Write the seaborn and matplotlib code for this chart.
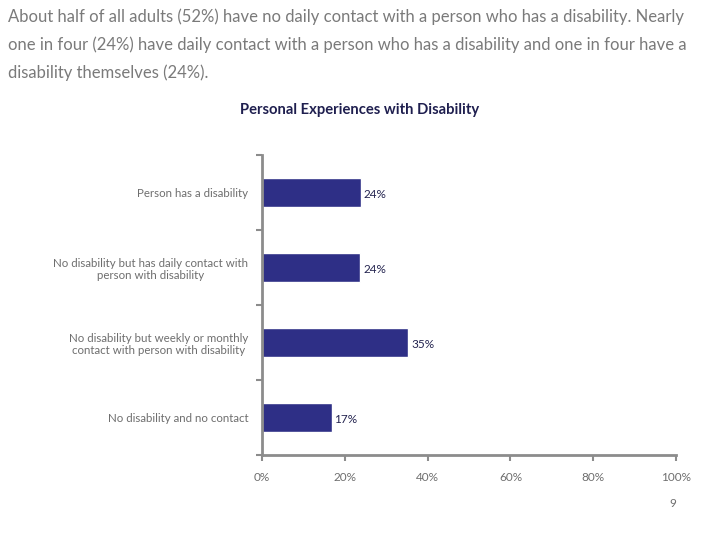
import matplotlib
matplotlib.use("Agg")
import matplotlib.pyplot as plt
import seaborn as sns
import pandas as pd
from matplotlib.ticker import FixedLocator, FuncFormatter

# Données
categories = [
    "Person has a disability",
    "No disability but has daily contact with\nperson with disability",
    "No disability but weekly or monthly\ncontact with person with disability",
    "No disability and no contact",
]
values = [23.9, 23.7, 35.3, 16.8]
labels = ["24%", "24%", "35%", "17%"]
x_ticks = [0, 20, 40, 60, 80, 100]

header = ("About half of all adults (52%) have no daily contact with a person who has a disability. Nearly\n"
          "one in four (24%) have daily contact with a person who has a disability and one in four have a\n"
          "disability themselves (24%).")
title = "Personal Experiences with Disability"

sns.set_style("white")
plt.rcParams["font.family"] = ["Lato", "DejaVu Sans"]

df = pd.DataFrame({"cat": categories, "val": values})

fig = plt.figure(figsize=(7.2, 5.4), dpi=100)
ax = fig.add_axes([0.364, 0.157, 0.575, 0.556])

sns.barplot(data=df, y="cat", x="val", orient="h", color="#2E2F86",
            width=0.38, saturation=1, ax=ax)

# Étiquettes des valeurs
for i, (v, lab) in enumerate(zip(values, labels)):
    ax.text(v + 0.7, i + 0.03, lab, va="center", ha="left", fontsize=8.5,
            color="#23234F")

ax.set_xlim(0, 100)
ax.set_ylim(3.5, -0.5)
ax.set_xlabel("")
ax.set_ylabel("")
ax.xaxis.set_major_locator(FixedLocator(x_ticks))
ax.xaxis.set_major_formatter(FuncFormatter(lambda x, p: f"{x:.0f}%"))

# Axes gris
for side in ["top", "right"]:
    ax.spines[side].set_visible(False)
for side in ["left", "bottom"]:
    ax.spines[side].set_color("#8C8C8C")
    ax.spines[side].set_linewidth(2)

ax.tick_params(axis="x", direction="out", length=4, width=1.5, color="#8C8C8C",
               labelsize=8.5, labelcolor="#6E6E6E", pad=8, bottom=True)
ax.tick_params(axis="y", which="major", length=0, labelsize=8.3,
               labelcolor="#6E6E6E", pad=10)
ax.yaxis.set_minor_locator(FixedLocator([-0.5, 0.5, 1.5, 2.5, 3.5]))
ax.tick_params(axis="y", which="minor", direction="out", length=4, width=1.5,
               color="#8C8C8C", left=True)
for t in ax.get_yticklabels():
    t.set_multialignment("center")

fig.text(0.011, 0.985, header, ha="left", va="top", fontsize=12.0,
         color="#7A7A7A", linespacing=1.85)
fig.text(0.5, 0.797, title, ha="center", va="center", fontsize=10.6,
         fontweight="bold", color="#1F1F4F")
fig.text(0.935, 0.068, "9", ha="center", va="center", fontsize=8.5,
         color="#6E6E6E")

fig.savefig("out.png", dpi=100)
